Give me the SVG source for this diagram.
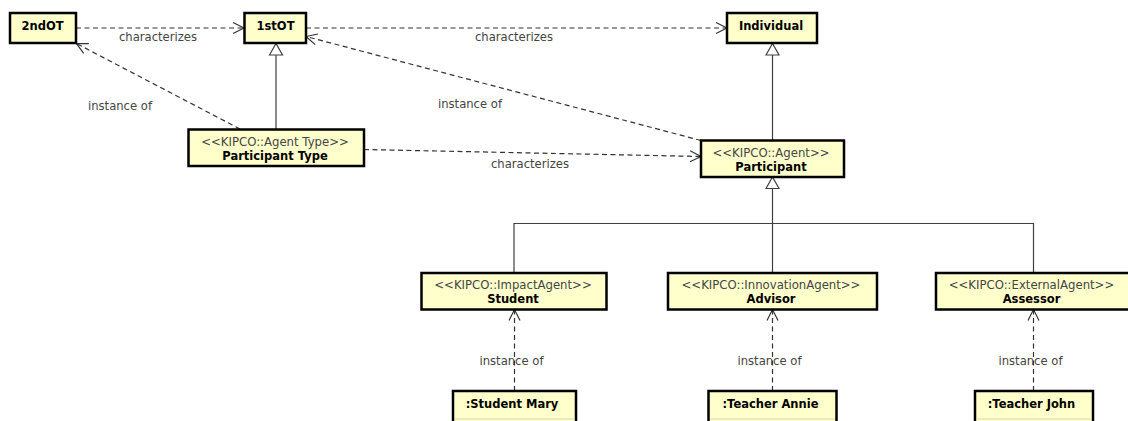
<svg xmlns="http://www.w3.org/2000/svg" width="1128" height="421" viewBox="0 0 1128 421">
<style>
.box{fill:#FFFFCC;stroke:#000;stroke-width:2.5}
.sep{stroke:#d9d9b0;stroke-width:1}
.st{font-family:"DejaVu Sans",sans-serif;font-size:11.7px;fill:#444;text-anchor:middle}
.nm{font-family:"DejaVu Sans",sans-serif;font-size:11.5px;font-weight:bold;fill:#000;text-anchor:middle}
.lb{font-family:"DejaVu Sans",sans-serif;font-size:11.6px;fill:#444;text-anchor:middle}
.gen{fill:none;stroke:#404040;stroke-width:1.2}
.dep{fill:none;stroke:#333;stroke-width:1.2;stroke-dasharray:5,3.5}
</style>
<defs>
<marker id="open" markerUnits="userSpaceOnUse" markerWidth="14" markerHeight="14" viewBox="-12 -7 14 14" refX="0" refY="0" orient="auto">
<path d="M-11,-5.5 L0,0 L-11,5.5" fill="none" stroke="#333" stroke-width="1.2"/>
</marker>
<marker id="tri" markerUnits="userSpaceOnUse" markerWidth="16" markerHeight="16" viewBox="-13 -8 15 16" refX="0" refY="0" orient="auto">
<path d="M-11.5,-6.5 L0,0 L-11.5,6.5 Z" fill="#fff" stroke="#404040" stroke-width="1.2"/>
</marker>
</defs>

<g id="connectors">
<!-- characterizes 2ndOT -> 1stOT -->
<line class="dep" x1="76" y1="28" x2="244" y2="28" marker-end="url(#open)"/>
<text class="lb" x="158" y="41">characterizes</text>
<!-- characterizes 1stOT -> Individual -->
<line class="dep" x1="306" y1="28" x2="727" y2="28" marker-end="url(#open)"/>
<text class="lb" x="514" y="41">characterizes</text>
<!-- instance of Participant Type -> 2ndOT -->
<line class="dep" x1="240" y1="129" x2="76.5" y2="43.5" marker-end="url(#open)"/>
<text class="lb" x="120" y="110">instance of</text>
<!-- instance of Participant -> 1stOT -->
<line class="dep" x1="701" y1="140.5" x2="306" y2="36.5" marker-end="url(#open)"/>
<text class="lb" x="470" y="107.5">instance of</text>
<!-- characterizes Participant Type -> Participant -->
<line class="dep" x1="364" y1="149.5" x2="701" y2="156.5" marker-end="url(#open)"/>
<text class="lb" x="530" y="167.5">characterizes</text>
<!-- generalizations -->
<line class="gen" x1="276" y1="129.5" x2="276" y2="43.5" marker-end="url(#tri)"/>
<line class="gen" x1="772.5" y1="140.5" x2="772.5" y2="43.5" marker-end="url(#tri)"/>
<polyline class="gen" points="514,273 514,223.5 1033.5,223.5 1033.5,273"/>
<line class="gen" x1="772.5" y1="273" x2="772.5" y2="177" marker-end="url(#tri)"/>
<!-- instance of (bottom) -->
<line class="dep" x1="514.5" y1="391" x2="514.5" y2="309.5" marker-end="url(#open)"/>
<text class="lb" x="511.5" y="364.5">instance of</text>
<line class="dep" x1="772.5" y1="391" x2="772.5" y2="309.5" marker-end="url(#open)"/>
<text class="lb" x="769.5" y="364.5">instance of</text>
<line class="dep" x1="1033.5" y1="391" x2="1033.5" y2="309.5" marker-end="url(#open)"/>
<text class="lb" x="1030.5" y="364.5">instance of</text>
</g>

<g id="n-2ndOT">
<rect class="box" x="10" y="13" width="66" height="30"/>
<text class="nm" x="42.5" y="30">2ndOT</text>
</g>
<g id="n-1stOT">
<rect class="box" x="244.5" y="13" width="61.5" height="30"/>
<text class="nm" x="275.5" y="30">1stOT</text>
</g>
<g id="n-Individual">
<rect class="box" x="727" y="13" width="90" height="30"/>
<text class="nm" x="771" y="30">Individual</text>
</g>
<g id="n-ParticipantType">
<rect class="box" x="188.5" y="129.5" width="175.5" height="36.5"/>
<text class="st" x="275" y="145.5">&lt;&lt;KIPCO::Agent Type&gt;&gt;</text>
<text class="nm" x="275" y="160">Participant Type</text>
</g>
<g id="n-Participant">
<rect class="box" x="701" y="140.5" width="143" height="36.5"/>
<text class="st" x="771" y="156.5">&lt;&lt;KIPCO::Agent&gt;&gt;</text>
<text class="nm" x="771" y="171">Participant</text>
</g>
<g id="n-Student">
<rect class="box" x="421.5" y="273" width="185" height="36.5"/>
<text class="st" x="513" y="289">&lt;&lt;KIPCO::ImpactAgent&gt;&gt;</text>
<text class="nm" x="513" y="303">Student</text>
</g>
<g id="n-Advisor">
<rect class="box" x="668" y="273" width="209" height="36.5"/>
<text class="st" x="771" y="289">&lt;&lt;KIPCO::InnovationAgent&gt;&gt;</text>
<text class="nm" x="771" y="303">Advisor</text>
</g>
<g id="n-Assessor">
<rect class="box" x="936" y="273" width="198" height="36.5"/>
<text class="st" x="1031.5" y="289">&lt;&lt;KIPCO::ExternalAgent&gt;&gt;</text>
<text class="nm" x="1031.5" y="303">Assessor</text>
</g>
<g id="n-StudentMary">
<rect class="box" x="453" y="391" width="123" height="40"/>
<line class="sep" x1="454.5" y1="419" x2="574.5" y2="419"/>
<text class="nm" x="512" y="408">:Student Mary</text>
</g>
<g id="n-TeacherAnnie">
<rect class="box" x="708.5" y="391" width="128" height="40"/>
<line class="sep" x1="710" y1="419" x2="835" y2="419"/>
<text class="nm" x="770.5" y="408">:Teacher Annie</text>
</g>
<g id="n-TeacherJohn">
<rect class="box" x="975" y="391" width="118" height="40"/>
<line class="sep" x1="976.5" y1="419" x2="1091.5" y2="419"/>
<text class="nm" x="1031.5" y="408">:Teacher John</text>
</g>
</svg>
